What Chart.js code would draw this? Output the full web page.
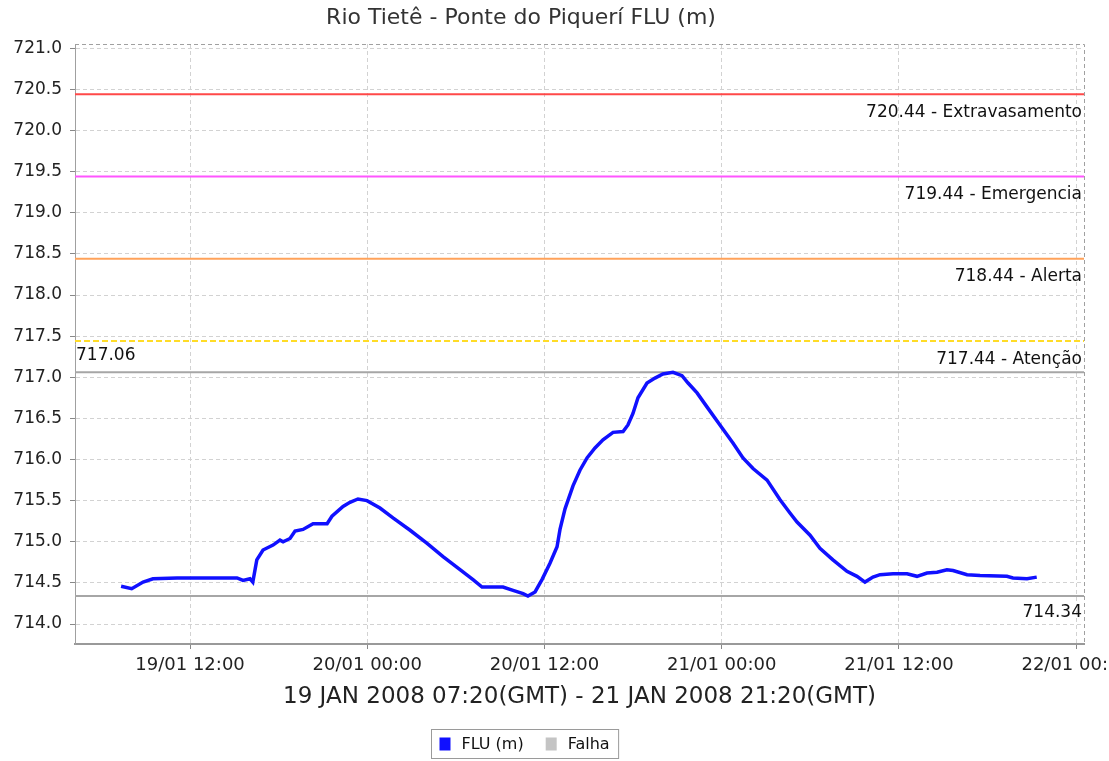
<!DOCTYPE html>
<html>
<head>
<meta charset="UTF-8">
<title>Rio Tietê - Ponte do Piquerí FLU (m)</title>
<script src="https://cdn.jsdelivr.net/npm/chart.js"></script>
<style>
    html, body { margin: 0; padding: 0; background: #fff; }
</style>
</head>
<body>
<canvas id="chart" width="1109" height="761"></canvas>

<script>
// horas contadas desde 19/01/2008 00:00 GMT
var hours = [7.33, 8.05, 8.82, 9.49, 11.12, 13.00, 15.18, 15.59, 16.06, 16.25,
    16.52, 16.94, 17.62, 18.09, 18.30, 18.77, 19.11, 19.65, 20.33, 21.28,
    21.61, 22.36, 22.83, 23.37, 23.98, 24.86, 25.74, 26.90, 28.05, 29.13,
    30.28, 31.16, 31.77, 33.19, 33.87, 34.55, 34.88, 35.36, 35.83, 36.37,
    36.85, 37.05, 37.39, 37.93, 38.40, 38.88, 39.42, 39.96, 40.64, 41.32,
    41.65, 41.99, 42.33, 42.94, 43.48, 44.02, 44.70, 45.31, 45.72, 46.33,
    47.00, 47.88, 48.76, 49.44, 50.12, 51.07, 51.95, 52.62, 53.10, 53.98,
    54.65, 55.53, 56.48, 57.16, 57.70, 58.24, 58.72, 59.60, 60.55, 61.22,
    61.90, 62.58, 63.25, 63.66, 64.61, 65.49, 67.31, 67.72, 68.67, 69.33];
// nivel FLU (m)
var levels = [714.46, 714.43, 714.51, 714.55, 714.56, 714.56, 714.56, 714.53, 714.55, 714.51,
    714.78, 714.90, 714.96, 715.02, 715.00, 715.04, 715.13, 715.15, 715.22, 715.22,
    715.31, 715.43, 715.48, 715.52, 715.50, 715.41, 715.29, 715.14, 714.98, 714.82,
    714.66, 714.54, 714.45, 714.45, 714.41, 714.37, 714.34, 714.39, 714.54, 714.74,
    714.94, 715.15, 715.40, 715.68, 715.87, 716.02, 716.14, 716.24, 716.33, 716.34,
    716.42, 716.56, 716.75, 716.93, 716.99, 717.04, 717.06, 717.02, 716.93, 716.81,
    716.64, 716.42, 716.20, 716.02, 715.89, 715.75, 715.51, 715.35, 715.24, 715.08,
    714.92, 714.78, 714.64, 714.58, 714.51, 714.57, 714.60, 714.61, 714.61, 714.58,
    714.62, 714.63, 714.66, 714.65, 714.60, 714.59, 714.58, 714.56, 714.55, 714.57];

var chartTitle = 'Rio Tietê - Ponte do Piquerí FLU (m)';
var axisTitle = '19 JAN 2008 07:20(GMT) - 21 JAN 2008 21:20(GMT)';
var seriesNames = ['FLU (m)', 'Falha'];
var seriesColors = ['#1010ff', '#c4c4c4'];

// cotas de referencia
var limitValues = [720.44, 719.44, 718.44, 717.44];
var limitNames = ['Extravasamento', 'Emergencia', 'Alerta', 'Atenção'];
var limitColors = ['#ff4848', '#ff55ff', '#ffa25a', '#ffdc28'];

var maxLevel = Math.max.apply(null, levels);
var minLevel = Math.min.apply(null, levels);

var points = hours.map(function(h, i) { return {x: h, y: levels[i]}; });

function pad2(n) { return ('0' + n).slice(-2); }

var extras = {
    id: 'extras',
    beforeDatasetsDraw: function(chart) {
        var ctx = chart.ctx, area = chart.chartArea, y = chart.scales.y;
        ctx.save();
        ctx.beginPath();
        ctx.rect(area.left, area.top, area.right - area.left, area.bottom - area.top);
        ctx.clip();
        ctx.font = '17px "DejaVu Sans"';
        ctx.textBaseline = 'middle';
        limitValues.forEach(function(v, i) {
            var py = y.getPixelForValue(v);
            ctx.strokeStyle = limitColors[i];
            ctx.lineWidth = 2;
            ctx.setLineDash(i === 3 ? [6, 3] : []);
            ctx.beginPath();
            ctx.moveTo(area.left, py);
            ctx.lineTo(area.right, py);
            ctx.stroke();
            ctx.fillStyle = '#111';
            ctx.textAlign = 'right';
            ctx.fillText(v.toFixed(2) + ' - ' + limitNames[i], area.right - 2, py + 18);
        });
        ctx.setLineDash([]);
        ctx.strokeStyle = '#a6a6a6';
        [maxLevel, minLevel].forEach(function(v, i) {
            var py = y.getPixelForValue(v);
            ctx.beginPath();
            ctx.moveTo(area.left, py);
            ctx.lineTo(area.right, py);
            ctx.stroke();
            ctx.fillStyle = '#111';
            if (i === 0) {
                ctx.textAlign = 'left';
                ctx.fillText(v.toFixed(2), area.left + 1, py - 17);
            } else {
                ctx.textAlign = 'right';
                ctx.fillText(v.toFixed(2), area.right - 2, py + 17);
            }
        });
        ctx.restore();
    },
    afterDraw: function(chart) {
        var ctx = chart.ctx, area = chart.chartArea;
        ctx.save();
        // borda tracejada de cima e da direita
        ctx.strokeStyle = '#a0a0a0';
        ctx.lineWidth = 1;
        ctx.setLineDash([4, 3]);
        ctx.beginPath();
        ctx.moveTo(area.left, area.top + 0.5);
        ctx.lineTo(area.right + 0.5, area.top + 0.5);
        ctx.lineTo(area.right + 0.5, area.bottom);
        ctx.stroke();
        ctx.setLineDash([]);

        // titulo
        ctx.fillStyle = '#333';
        ctx.font = '22px "DejaVu Sans"';
        ctx.textAlign = 'center';
        ctx.textBaseline = 'middle';
        ctx.fillText(chartTitle, 521, 18);

        // legenda
        ctx.font = '16px "DejaVu Sans"';
        var w0 = ctx.measureText(seriesNames[0]).width;
        var w1 = ctx.measureText(seriesNames[1]).width;
        var boxW = 8 + 10 + 12 + w0 + 22 + 10 + 12 + w1 + 9;
        var bx = Math.round(525 - boxW / 2) + 0.5, by = 729.5;
        ctx.fillStyle = '#fff';
        ctx.fillRect(bx, by, boxW, 29);
        ctx.strokeStyle = '#9a9a9a';
        ctx.strokeRect(bx, by, boxW, 29);
        var cx = bx + 8;
        ctx.textAlign = 'left';
        [w0, w1].forEach(function(w, i) {
            ctx.fillStyle = seriesColors[i];
            ctx.fillRect(cx, by + 8, 11, 13);
            ctx.fillStyle = '#111';
            ctx.fillText(seriesNames[i], cx + 22, by + 15);
            cx += 22 + w + 22;
        });
        ctx.restore();
    }
};

var ctx = document.getElementById('chart').getContext('2d');
var chart = new Chart(ctx, {
    type: 'line',
    data: {
        datasets: [{
            label: seriesNames[0],
            data: points,
            borderColor: seriesColors[0],
            backgroundColor: seriesColors[0],
            borderWidth: 3.5,
            pointRadius: 0,
            tension: 0,
            fill: false
        }, {
            label: seriesNames[1],
            data: [],
            borderColor: seriesColors[1],
            backgroundColor: seriesColors[1]
        }]
    },
    options: {
        responsive: false,
        animation: false,
        layout: { padding: { top: 44, left: 0, right: 25, bottom: 44 } },
        plugins: {
            legend: { display: false },
            title: { display: false },
            tooltip: { enabled: false }
        },
        scales: {
            x: {
                type: 'linear',
                min: 4.21,
                max: 72.53,
                afterFit: function(scale) {
                    scale.height = 73;
                    scale.paddingLeft = 0;
                    scale.paddingRight = 0;
                },
                ticks: {
                    stepSize: 12,
                    includeBounds: false,
                    autoSkip: false,
                    maxRotation: 0,
                    padding: 6,
                    color: '#222',
                    font: { family: 'DejaVu Sans', size: 18 },
                    callback: function(value) {
                        var day = 19 + Math.floor(value / 24);
                        return day + '/01 ' + pad2(value % 24) + ':00';
                    }
                },
                grid: { color: '#d2d2d2', tickColor: '#888', tickLength: 5, tickBorderDash: [] },
                border: { color: '#999', width: 2, dash: [4, 3] },
                title: {
                    display: true,
                    text: axisTitle,
                    color: '#222',
                    font: { family: 'DejaVu Sans', size: 23 },
                    padding: { top: 0, bottom: 6 }
                }
            },
            y: {
                min: 713.757,
                max: 721.052,
                afterFit: function(scale) { scale.width = 75; },
                ticks: {
                    stepSize: 0.5,
                    includeBounds: false,
                    padding: 8,
                    color: '#222',
                    font: { family: 'DejaVu Sans', size: 17 },
                    callback: function(value) { return value.toFixed(1); }
                },
                grid: { color: '#d2d2d2', tickColor: '#888', tickLength: 5, tickBorderDash: [] },
                border: { color: '#a0a0a0', width: 1, dash: [4, 3] }
            }
        }
    },
    plugins: [extras]
});
</script>
</body>
</html>
